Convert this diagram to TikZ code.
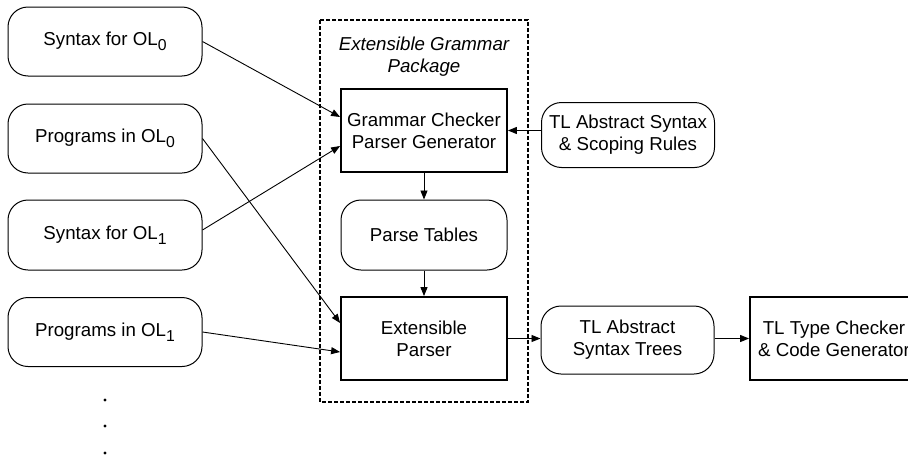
\documentclass[tikz,border=0pt]{standalone}
\usepackage{fontspec}
\setmainfont{Liberation Sans}
\usetikzlibrary{arrows.meta}
\newcommand{\subz}[1]{\raisebox{-5pt}{\fontsize{15.8}{15.8}\selectfont #1}}
\begin{document}
\begin{tikzpicture}[x={(1pt,0)},y={(0,-1pt)},
  font=\fontsize{18.7}{22}\selectfont,
  rbox/.style={draw,line width=1pt,rounded corners=20pt,align=center,inner sep=0pt},
  sbox/.style={draw,line width=1.8pt,align=center,inner sep=0pt},
  conn/.style={line width=0.9pt,-{Triangle[length=9pt,width=7pt]}}]
\clip (0,0) rectangle (908,458);
\node[rbox,minimum width=194pt,minimum height=69pt] (s0) at (105,41.5) {Syntax for OL\subz{0}};
\node[rbox,minimum width=194pt,minimum height=69pt] (p0) at (105,138.5) {Programs in OL\subz{0}};
\node[rbox,minimum width=194pt,minimum height=70pt] (s1) at (105,235) {Syntax for OL\subz{1}};
\node[rbox,minimum width=194pt,minimum height=69pt] (p1) at (105,332) {Programs in OL\subz{1}};
\draw[line width=1.3pt,dash pattern=on 4pt off 2pt] (320,20) rectangle (528,402);
\node[font=\fontsize{18.7}{22}\selectfont\itshape,align=center] (title) at (424,57) {Extensible Grammar\\Package};
\node[sbox,minimum width=166pt,minimum height=83pt] (gc) at (424,130.5) {Grammar Checker\\Parser Generator};
\node[rbox,minimum width=166pt,minimum height=70pt] (pt) at (424,235) {Parse Tables};
\node[sbox,minimum width=166pt,minimum height=83pt] (ep) at (424,338.5) {Extensible\\Parser};
\node[rbox,minimum width=173pt,minimum height=65pt] (tl) at (628,135) {TL Abstract Syntax\\\& Scoping Rules};
\node[rbox,minimum width=173pt,minimum height=68pt] (ast) at (627.5,340) {TL Abstract\\Syntax Trees};
\node[sbox,minimum width=168pt,minimum height=83pt] (tc) at (834,338.5) {TL Type Checker\\\& Code Generator};
\foreach \yy/\nm in {400/d1,426/d2,453/d3}
  \fill (105,\yy) circle (1.6pt) coordinate (\nm);
\draw[conn] (s0.east) -- ([yshift=13.5pt]gc.west);
\draw[conn] ([yshift=5pt]s1.east) -- ([yshift=-15.5pt]gc.west);
\draw[conn] (p0.east) -- ([yshift=15.5pt]ep.west);
\draw[conn] (p1.east) -- ([yshift=-13.5pt]ep.west);
\draw[conn] (tl.west |- gc.east) -- (gc.east);
\draw[conn] (gc.south) -- (pt.north);
\draw[conn] (pt.south) -- (ep.north);
\draw[conn] (ep.east) -- (ast.west |- ep.east);
\draw[conn] (ast.east |- ep.east) -- (tc.west);
\end{tikzpicture}
\end{document}
